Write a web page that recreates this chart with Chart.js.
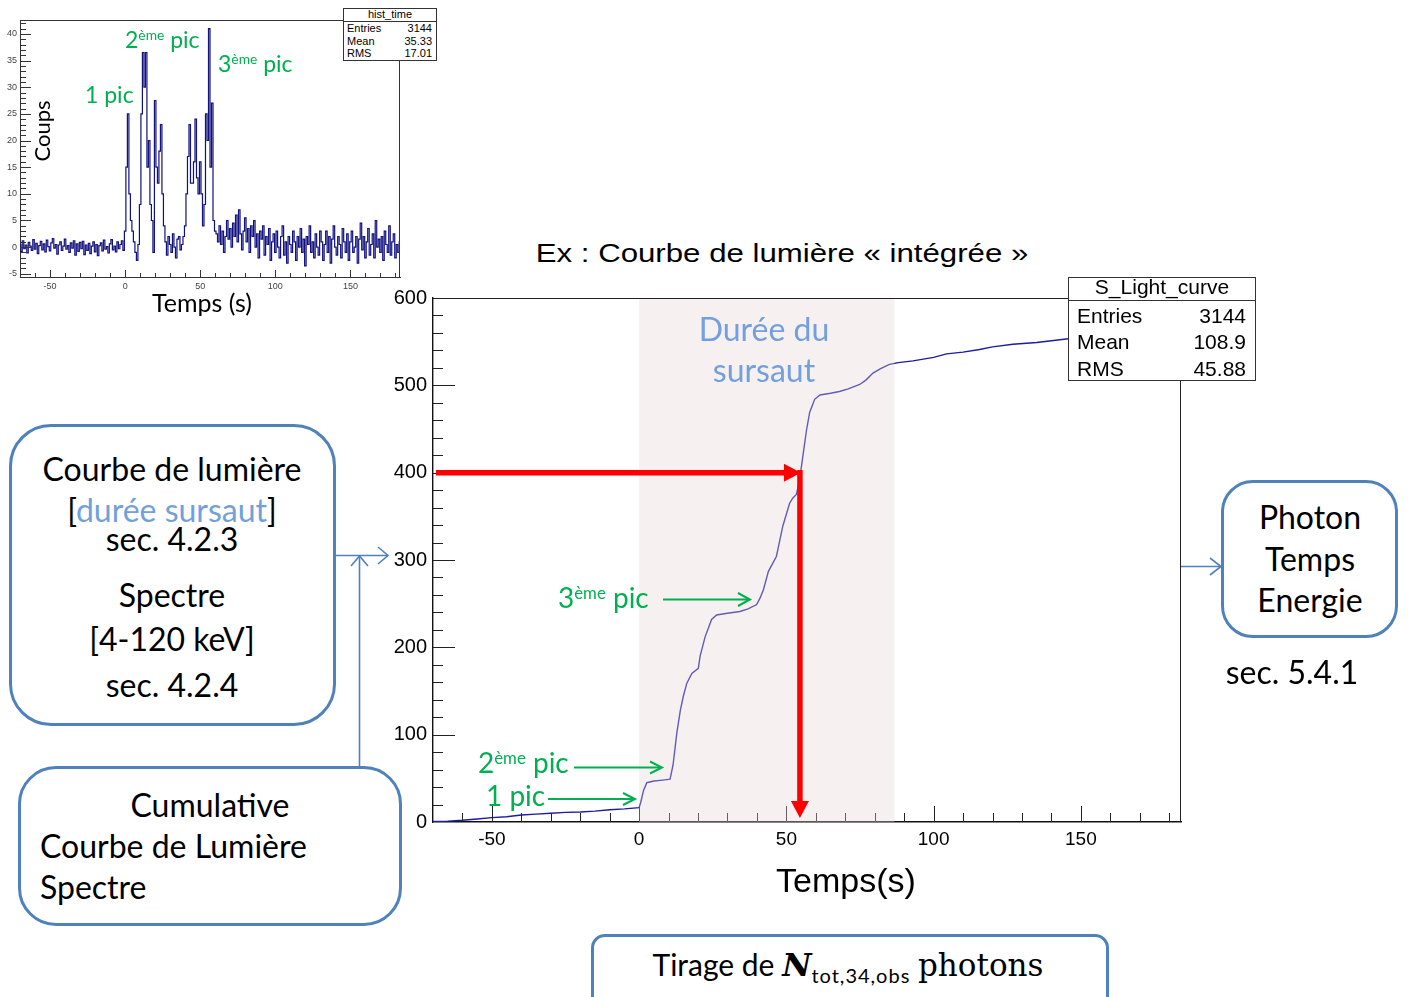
<!DOCTYPE html>
<html>
<head>
<meta charset="utf-8">
<title>Courbe de lumière intégrée</title>
<script src="https://cdn.jsdelivr.net/npm/chart.js@4.4.1/dist/chart.umd.min.js"></script>
<style>
  body{margin:0;background:#fff;}
  #page{position:relative;width:1408px;height:997px;overflow:hidden;background:#fff;}
  canvas{position:absolute;}
  .lt{position:absolute;font-family:Lato,"Open Sans",sans-serif;line-height:1;white-space:nowrap;color:#000;}
  .hv{position:absolute;font-family:"Liberation Sans",Arial,sans-serif;line-height:1;white-space:nowrap;color:#000;}
  .ctr{text-align:center;}
  .rgt{text-align:right;}
  .green{color:#00b050;}
  .lblue{color:#71a0dc;}
  .box{position:absolute;box-sizing:border-box;border:3px solid #4f81bd;background:#fff;}
  .stats{position:absolute;box-sizing:border-box;border:1px solid #333;background:#fff;}
  sup.e{font-size:60%;vertical-align:0.55em;line-height:0;}
  #links{position:absolute;left:0;top:0;}
</style>
</head>
<body>
<div id="page">

  <!-- petit histogramme brut -->
  <canvas id="hist" width="410" height="300" style="left:0;top:0"></canvas>
  <div class="stats" style="left:343px;top:8px;width:94px;height:53px"></div>
  <div style="position:absolute;left:343px;top:21px;width:94px;height:1px;background:#333"></div>
  <div class="hv ctr" style="left:343px;top:9px;width:94px;font-size:11px">hist_time</div>
  <div class="hv" style="left:347px;top:23px;font-size:11px">Entries</div>
  <div class="hv rgt" style="left:382px;top:23px;width:50px;font-size:11px">3144</div>
  <div class="hv" style="left:347px;top:35.5px;font-size:11px">Mean</div>
  <div class="hv rgt" style="left:382px;top:35.5px;width:50px;font-size:11px">35.33</div>
  <div class="hv" style="left:347px;top:48px;font-size:11px">RMS</div>
  <div class="hv rgt" style="left:382px;top:48px;width:50px;font-size:11px">17.01</div>
  <div class="lt ctr" style="left:-8.5px;top:115.5px;width:100px;height:30px;line-height:30px;font-size:22px;transform:rotate(-90deg)">Coups</div>
  <div class="lt ctr" style="left:102px;top:290px;width:200px;font-size:25px">Temps (s)</div>
  <div class="lt green" style="left:125px;top:28px;font-size:23px">2<sup class="e">ème</sup> pic</div>
  <div class="lt green" style="left:218px;top:52px;font-size:23px">3<sup class="e">ème</sup> pic</div>
  <div class="lt green" style="left:85px;top:83px;font-size:23px">1 pic</div>

  <!-- courbe cumulée -->
  <div class="hv ctr" style="left:482px;top:239.5px;width:600px;font-size:26px;transform:scaleX(1.2)">Ex : Courbe de lumière « intégrée »</div>
  <canvas id="cumul" width="830" height="600" style="left:370px;top:262px"></canvas>
  <div class="lt ctr lblue" style="left:614px;top:312.5px;width:300px;font-size:32px">Durée du</div>
  <div class="lt ctr lblue" style="left:614px;top:354px;width:300px;font-size:32px">sursaut</div>
  <div class="hv ctr" style="left:696px;top:863px;width:300px;font-size:34px">Temps(s)</div>

  <div class="stats" style="left:1068px;top:277px;width:188px;height:104px"></div>
  <div style="position:absolute;left:1068px;top:300px;width:188px;height:1px;background:#333"></div>
  <div class="hv ctr" style="left:1068px;top:276px;width:188px;font-size:21px">S_Light_curve</div>
  <div class="hv" style="left:1077px;top:304.5px;font-size:21px">Entries</div>
  <div class="hv rgt" style="left:1146px;top:304.5px;width:100px;font-size:21px">3144</div>
  <div class="hv" style="left:1077px;top:331px;font-size:21px">Mean</div>
  <div class="hv rgt" style="left:1146px;top:331px;width:100px;font-size:21px">108.9</div>
  <div class="hv" style="left:1077px;top:357.5px;font-size:21px">RMS</div>
  <div class="hv rgt" style="left:1146px;top:357.5px;width:100px;font-size:21px">45.88</div>

  <div class="lt green" style="left:558px;top:583px;font-size:28px">3<sup class="e">ème</sup> pic</div>
  <div class="lt green" style="left:478px;top:748px;font-size:28px">2<sup class="e">ème</sup> pic</div>
  <div class="lt green" style="left:486px;top:781px;font-size:28px">1 pic</div>

  <!-- encadrés -->
  <div class="box" style="left:9px;top:424px;width:327px;height:302px;border-radius:42px"></div>
  <div class="lt ctr" style="left:22px;top:452.5px;width:300px;font-size:32px">Courbe de lumière</div>
  <div class="lt ctr" style="left:22px;top:494px;width:300px;font-size:32px">[<span class="lblue">durée sursaut</span>]</div>
  <div class="lt ctr" style="left:22px;top:523px;width:300px;font-size:32px">sec. 4.2.3</div>
  <div class="lt ctr" style="left:22px;top:579px;width:300px;font-size:32px">Spectre</div>
  <div class="lt ctr" style="left:22px;top:622.5px;width:300px;font-size:32px">[4-120 keV]</div>
  <div class="lt ctr" style="left:22px;top:669px;width:300px;font-size:32px">sec. 4.2.4</div>

  <div class="box" style="left:18px;top:766px;width:384px;height:160px;border-radius:38px"></div>
  <div class="lt ctr" style="left:60px;top:788.5px;width:300px;font-size:32px">Cumulative</div>
  <div class="lt" style="left:40px;top:830px;font-size:32px">Courbe de Lumière</div>
  <div class="lt" style="left:40px;top:871px;font-size:32px">Spectre</div>

  <div class="box" style="left:1221px;top:480px;width:177px;height:158px;border-radius:32px"></div>
  <div class="lt ctr" style="left:1210px;top:501px;width:200px;font-size:32px">Photon</div>
  <div class="lt ctr" style="left:1210px;top:542.5px;width:200px;font-size:32px">Temps</div>
  <div class="lt ctr" style="left:1210px;top:584px;width:200px;font-size:32px">Energie</div>
  <div class="lt ctr" style="left:1192px;top:656px;width:200px;font-size:32px">sec. 5.4.1</div>

  <div class="box" style="left:591px;top:934px;width:518px;height:100px;border-radius:14px"></div>
  <div class="lt ctr" style="left:589px;top:949px;width:518px;font-size:30px">Tirage de <span style="font-family:'DejaVu Serif',serif;font-style:italic;font-weight:bold;font-size:32px">N</span><span style="font-size:20px;vertical-align:-7px;letter-spacing:1px">tot,34,obs</span> <span style="font-family:'DejaVu Serif',serif;font-size:31px">photons</span></div>

  <svg id="links" width="1408" height="997">
    <g stroke="#4f81bd" stroke-width="1.6" fill="none">
      <path d="M336 555.5 H387"/><path d="M378 547 L388 555.5 L378 564"/>
      <path d="M359.5 768 V557"/><path d="M351 566 L359.5 556 L368 566"/>
      <path d="M1181 566.5 H1220"/><path d="M1210 558 L1221 566.5 L1210 575"/>
    </g>
    <g stroke="#00b050" stroke-width="2" fill="none">
      <path d="M663 599.5 H749"/><path d="M738 593 L750 599.5 L738 606"/>
      <path d="M574 767.5 H661"/><path d="M650 761.5 L662 767.5 L650 773.5"/>
      <path d="M548 799 H635"/><path d="M623 793 L635 799 L623 805"/>
    </g>
  </svg>
</div>

<script>
'use strict';

/* histogramme brut : bins de 1 s à partir de -70 s */
var histStart=-70;
var histBin=1;
var histCounts=[
  // -70 .. -1
  0.5,-0.8,1.2,-0.3,0.4,-1.1,0.9,0.2,-0.6,1.4,
  -0.4,0.7,-1.2,0.3,1.1,-0.5,0.6,-0.9,1.3,0.1,
  -0.7,0.8,1.6,-0.2,0.5,-1.3,0.4,1.0,-0.6,0.2,
  1.5,-0.4,0.3,-1.0,0.8,-0.2,1.2,-1.5,0.6,-0.8,
  0.9,-0.3,1.1,-1.4,0.4,-0.6,0.7,-1.2,0.2,1.0,
  -0.9,0.5,-1.6,0.3,0.8,-0.7,1.3,-0.4,0.1,-1.1,
  0.6,1.4,-0.5,0.2,-0.9,1.0,-0.3,0.5,1.2,-0.6,
  // 0 .. 60 (sursaut)
  3,15,25,10,5,3,1,-1,-2.5,0.5,
  8,25,36.5,30,36.5,15,20,8,5,-1,
  27.5,15,12,18,23,10,4,1,-1.5,2,
  0.5,-1,2.5,0,-2,1.5,2,-0.5,0.5,2,
  4,10,17,23,12,12,16,24,13,10,
  16,10,4,8,25,20,41,15,27,5,
  3,
  // 61 .. 183
  2.5,1,4,0.5,3,-1,2,5,1.5,3.5,
  0,4.5,2,6,1,7,2.5,-0.5,3,5.5,
  1,3.5,-1,4,2,5,0,2.5,-2,3,
  1.5,4,-1.5,2,0.5,3.5,-2.5,1,2.5,-1,
  3,0,-2,2,4,-1.5,1,-3,2,0.5,
  -1,3,1,-2.5,2,0,3.5,-1,1.5,-3.5,
  2,0.5,4,-1,1,-2,2.5,0,-1.5,3,
  1,-2.5,0.5,3,-1,2,-3,1.5,4,0,
  -1.5,2,0.5,-2,3.5,1,-1,2.5,-2.5,1,
  3,-1,0,2,-3,1.5,4.5,-0.5,2,-2,
  1,3.5,-1.5,0.5,2.5,-2,5,0,1.5,-1,
  2,-2.5,3,0.5,-1,4,-1.5,1,2.5,-2,
  0.5,-1,1
];
var histXTicks=[-50,0,50,100,150];
var histYTicks=[-5,0,5,10,15,20,25,30,35,40];

/* courbe de lumière cumulée */
var cumTime=[-70,-65,-60,-55,-50,-45,-40,-35,-30,-25,-20,-15,-10,-5,0,0.5,1.5,2.6,5,8,10.5,11.5,12.8,14,15,16.2,17.9,20.1,20.7,22.4,24.6,26.3,30,34.2,37,39.9,41,42.2,43.9,46.6,48.8,51.1,52.2,53.4,54.5,55.6,56.8,57.9,59.6,61.4,65,68,71,74.9,77,79.4,82,85,88,93,100,104.4,110,115.6,120,126.9,135,145,155,165,175,184];
var cumCounts=[0.5,1,2,3.5,5,6,8,9,10,11,11.5,12.5,14,15,16.5,22,36,45,47,48,49,65,102,128,144,159,170,176,190,212,232,237,239,241,244,249,256,266,287,304,339,365,371,375,392,419,448,469,484,489,491,493,496,501,506,514,519,524,526,528,532,536,538,541,544,547,549,553,555,557,559,561];
var cumXTicks=[-50,0,50,100,150];
var cumYTicks=[0,100,200,300,400,500,600];
var burstWindow=[0,86.7];     // durée du sursaut (s)
var markerTime=54.6;          // temps lu à 400 coups
var markerLevel=400;

Chart.defaults.font.family='"Liberation Sans", Arial, sans-serif';
Chart.defaults.color='#000';

// cadre et graduations intérieures façon ROOT
var rootFrame={
  id:'rootFrame',
  afterDatasetsDraw:function(chart,args,o){
    var ctx=chart.ctx,a=chart.chartArea,xs=chart.scales.x,ys=chart.scales.y,i,v,p;
    ctx.save();
    ctx.strokeStyle=o.color;ctx.lineWidth=1;
    ctx.beginPath();
    ctx.moveTo(a.left,a.top+0.5);ctx.lineTo(a.right,a.top+0.5);
    ctx.moveTo(a.right-0.5,a.top);ctx.lineTo(a.right-0.5,a.bottom);
    for(i=Math.ceil(xs.min/o.xStep);i*o.xStep<=xs.max;i++){
      v=i*o.xStep;if(v<=xs.min)continue;
      p=Math.round(xs.getPixelForValue(v))+0.5;
      ctx.moveTo(p,a.bottom);ctx.lineTo(p,a.bottom-(v%o.xMajor===0?o.xMajorLen:o.xMinorLen));
    }
    for(i=Math.ceil(ys.min/o.yStep);i*o.yStep<=ys.max;i++){
      v=i*o.yStep;if(v<=ys.min)continue;
      p=Math.round(ys.getPixelForValue(v))+0.5;
      ctx.moveTo(a.left,p);ctx.lineTo(a.left+(v%o.yMajor===0?o.yMajorLen:o.yMinorLen),p);
    }
    ctx.stroke();
    if(o.shade){
      var x0=xs.getPixelForValue(o.shade.range[0]),x1=xs.getPixelForValue(o.shade.range[1]);
      ctx.fillStyle=o.shade.color;
      ctx.fillRect(x0,a.top+1,x1-x0,a.bottom-a.top-1);
    }
    if(o.marker){
      var m=o.marker,xp=xs.getPixelForValue(m.time),yp=ys.getPixelForValue(m.level);
      var xa=xs.getPixelForValue(m.from),yb=ys.getPixelForValue(m.to);
      ctx.strokeStyle=ctx.fillStyle=m.color;ctx.lineWidth=m.width;
      ctx.beginPath();
      ctx.moveTo(xa,yp);ctx.lineTo(xp-m.head+2,yp);
      ctx.moveTo(xp,yp-m.width/2);ctx.lineTo(xp,yb-m.head+2);
      ctx.stroke();
      ctx.beginPath();
      ctx.moveTo(xp+1,yp);ctx.lineTo(xp+1-m.head,yp-m.headW/2);ctx.lineTo(xp+1-m.head,yp+m.headW/2);ctx.closePath();
      ctx.moveTo(xp,yb);ctx.lineTo(xp-m.headW/2,yb-m.head);ctx.lineTo(xp+m.headW/2,yb-m.head);ctx.closePath();
      ctx.fill();
    }
    ctx.restore();
  }
};

function fixTicks(list){return function(s){s.ticks=list.map(function(v){return{value:v};});};}

new Chart(document.getElementById('hist'),{
  type:'line',
  data:{datasets:[{
    data:histCounts.map(function(c,i){return{x:histStart+i*histBin,y:c};}),
    borderColor:'#11117f',borderWidth:1.2,pointRadius:0,stepped:'middle',fill:false
  }]},
  options:{
    responsive:false,animation:false,
    layout:{padding:{top:20,right:10,left:0,bottom:0}},
    plugins:{legend:{display:false},tooltip:{enabled:false},
      rootFrame:{color:'#333',xStep:10,xMajor:50,xMajorLen:7,xMinorLen:4,yStep:1,yMajor:5,yMajorLen:11,yMinorLen:6}},
    scales:{
      x:{type:'linear',min:-70,max:183,grid:{display:false,drawTicks:false},border:{color:'#333',width:1},
        ticks:{font:{size:9},color:'#444',padding:4,maxRotation:0},
        afterBuildTicks:fixTicks(histXTicks),afterFit:function(s){s.height=23;}},
      y:{min:-5.6,max:42.6,grid:{display:false,drawTicks:false},border:{color:'#333',width:1},
        ticks:{font:{size:9},color:'#444',padding:3},
        afterBuildTicks:fixTicks(histYTicks),afterFit:function(s){s.width=20;}}
    }
  },
  plugins:[rootFrame]
});

new Chart(document.getElementById('cumul'),{
  type:'line',
  data:{datasets:[{
    data:cumTime.map(function(t,i){return{x:t,y:cumCounts[i]};}),
    borderColor:'#1c1ca0',borderWidth:1.4,pointRadius:0,fill:false,tension:0
  }]},
  options:{
    responsive:false,animation:false,
    layout:{padding:{top:36,right:19,left:0,bottom:0}},
    plugins:{legend:{display:false},tooltip:{enabled:false},
      rootFrame:{color:'#222',xStep:10,xMajor:50,xMajorLen:16,xMinorLen:9,yStep:20,yMajor:100,yMajorLen:22,yMinorLen:10,
        shade:{range:burstWindow,color:'rgba(229,212,212,0.35)'},
        marker:{time:markerTime,level:markerLevel,from:-69,to:4.5,color:'#ff0000',width:5.5,head:17,headW:18}}},
    scales:{
      x:{type:'linear',min:-70,max:184,grid:{display:false,drawTicks:false},border:{color:'#111',width:1.4},
        ticks:{font:{size:19},padding:6,maxRotation:0},
        afterBuildTicks:fixTicks(cumXTicks),afterFit:function(s){s.height=40;}},
      y:{min:0,max:600,grid:{display:false,drawTicks:false},border:{color:'#111',width:1.4},
        ticks:{font:{size:20},padding:6},
        afterBuildTicks:fixTicks(cumYTicks),afterFit:function(s){s.width=63;}}
    }
  },
  plugins:[rootFrame]
});
</script>
</body>
</html>
